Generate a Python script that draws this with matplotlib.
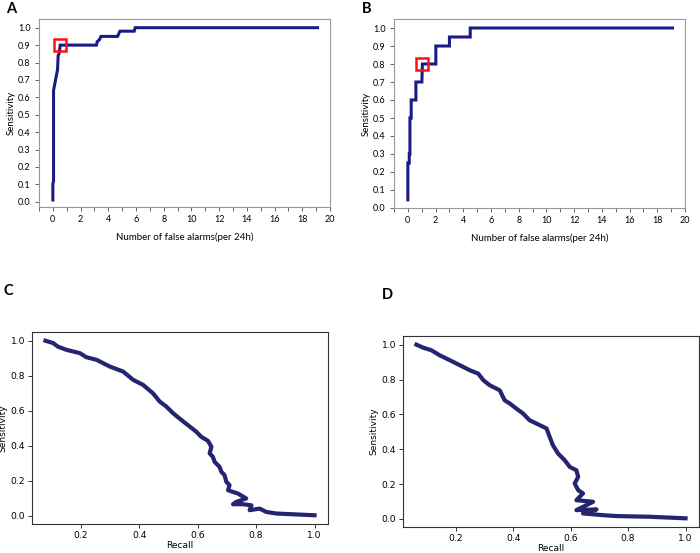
import matplotlib
matplotlib.use("Agg")
import matplotlib.pyplot as plt
import numpy as np
from matplotlib.ticker import MultipleLocator

# --- panel A: sensitivity vs false alarms (per 24h)
a_far = [0, 0, 0.05, 0.05, 0.34, 0.38, 0.45, 0.5, 0.53, 3.15, 3.2, 3.35, 3.47, 4.67, 4.84, 5.87, 5.94, 19.1]
a_sens = [0.01, 0.10, 0.12, 0.64, 0.76, 0.84, 0.85, 0.88, 0.90, 0.90, 0.92, 0.93, 0.95, 0.95, 0.98, 0.98, 1.0, 1.0]
a_mark = (0.53, 0.90)

# --- panel B
b_far = [0, 0, 0.1, 0.1, 0.15, 0.15, 0.24, 0.24, 0.58, 0.58, 1.01, 1.05, 2.02, 2.02, 3.0, 3.0, 4.5, 4.5, 19.1]
b_sens = [0.045, 0.25, 0.25, 0.30, 0.30, 0.50, 0.50, 0.60, 0.60, 0.70, 0.70, 0.80, 0.80, 0.90, 0.90, 0.95, 0.95, 1.0, 1.0]
b_mark = (1.05, 0.80)

# --- panel C: sensitivity vs recall
c_recall = [0.079, 0.105, 0.122, 0.151, 0.197, 0.219, 0.254, 0.299, 0.345, 0.379, 0.413, 0.447,
            0.470, 0.493, 0.516, 0.544, 0.573, 0.595, 0.612, 0.635, 0.647, 0.641, 0.652, 0.658,
            0.675, 0.681, 0.692, 0.698, 0.709, 0.704, 0.721, 0.738, 0.766, 0.732, 0.721, 0.755,
            0.784, 0.778, 0.812, 0.835, 0.869, 1.0]
c_sens = [1.0, 0.987, 0.966, 0.948, 0.929, 0.906, 0.891, 0.853, 0.824, 0.777, 0.748, 0.700,
          0.653, 0.624, 0.586, 0.548, 0.510, 0.481, 0.452, 0.429, 0.395, 0.357, 0.338, 0.309,
          0.280, 0.252, 0.233, 0.195, 0.176, 0.147, 0.137, 0.128, 0.100, 0.080, 0.067, 0.067,
          0.061, 0.033, 0.042, 0.023, 0.014, 0.004]

# --- panel D
d_recall = [0.063, 0.086, 0.115, 0.144, 0.179, 0.214, 0.249, 0.278, 0.296, 0.318, 0.353, 0.370,
            0.388, 0.411, 0.434, 0.457, 0.481, 0.516, 0.527, 0.538, 0.556, 0.579, 0.597, 0.620,
            0.626, 0.614, 0.626, 0.643, 0.631, 0.620, 0.678, 0.620, 0.690, 0.643, 0.713, 0.759,
            0.875, 1.0]
d_sens = [1.0, 0.983, 0.968, 0.939, 0.911, 0.882, 0.853, 0.834, 0.796, 0.767, 0.738, 0.681,
          0.662, 0.633, 0.605, 0.566, 0.547, 0.519, 0.470, 0.423, 0.375, 0.337, 0.298, 0.279,
          0.241, 0.203, 0.165, 0.146, 0.126, 0.107, 0.098, 0.050, 0.054, 0.031, 0.021, 0.016,
          0.012, 0.003]

TOP_COLOR = "#1b1b88"
BOT_COLOR = "#24246f"
TOP_FONT = ["Lato", "DejaVu Sans"]

fig = plt.figure(figsize=(7, 5.53), dpi=100)


def top_panel(rect, far, sens, mark, ylo, letter, lpos):
    ax = fig.add_axes(rect)
    ax.plot(far, sens, color=TOP_COLOR, lw=2.2, solid_joinstyle="miter", zorder=3)
    ax.plot(*mark, marker="s", ms=8, mfc="none", mec="#ff1010", mew=1.8, zorder=4)
    ax.set_xlim(-1, 20)
    ax.set_ylim(ylo, 1.05)
    ax.set_xticks(range(0, 21, 2))
    ax.xaxis.set_minor_locator(MultipleLocator(1))
    ax.set_yticks(np.arange(0, 1.01, 0.1))
    ax.set_yticklabels([f"{v:.1f}" for v in np.arange(0, 1.01, 0.1)])
    ax.tick_params(which="both", direction="out", length=3, width=0.7, color="#666666",
                   labelsize=6.5, pad=3)
    for t in ax.get_xticklabels() + ax.get_yticklabels():
        t.set_family(TOP_FONT)
    for s in ax.spines.values():
        s.set_color("#999999")
        s.set_linewidth(0.8)
    ax.set_xlabel("Number of false alarms(per 24h)", fontsize=7, family=TOP_FONT, labelpad=6)
    ax.set_ylabel("Sensitivity", fontsize=7, family=TOP_FONT, labelpad=2)
    fig.text(lpos[0], lpos[1], letter, fontsize=10.5, fontweight="bold", family=TOP_FONT,
             ha="left", va="top")
    return ax


def bottom_panel(rect, recall, sens, letter, lpos):
    ax = fig.add_axes(rect)
    ax.plot(recall, sens, color=BOT_COLOR, lw=3.0, solid_joinstyle="round", zorder=3)
    ax.set_xticks([0.2, 0.4, 0.6, 0.8, 1.0])
    ax.set_yticks([0.0, 0.2, 0.4, 0.6, 0.8, 1.0])
    ax.tick_params(direction="out", length=3, width=0.7, color="#333333", labelsize=6.6, pad=2)
    for s in ax.spines.values():
        s.set_color("#333333")
        s.set_linewidth(0.8)
    ax.set_xlabel("Recall", fontsize=6.5, labelpad=1)
    ax.set_ylabel("Sensitivity", fontsize=6.5, labelpad=2)
    fig.text(lpos[0], lpos[1], letter, fontsize=10.5, fontweight="bold", family=TOP_FONT,
             ha="left", va="top")
    return ax


top_panel([39 / 700, 1 - 207 / 553, 291 / 700, 188 / 553], a_far, a_sens, a_mark, -0.03, "A",
          (6 / 700, 1 - 2 / 553))
top_panel([394 / 700, 1 - 208 / 553, 291 / 700, 189 / 553], b_far, b_sens, b_mark, 0.0, "B",
          (362 / 700, 1 - 2 / 553))
bottom_panel([32 / 700, 1 - 524 / 553, 296 / 700, 192 / 553], c_recall, c_sens, "C",
             (4 / 700, 1 - 284 / 553))
bottom_panel([403 / 700, 1 - 527 / 553, 296 / 700, 191 / 553], d_recall, d_sens, "D",
             (382 / 700, 1 - 288 / 553))

fig.savefig("out.png", dpi=100)
